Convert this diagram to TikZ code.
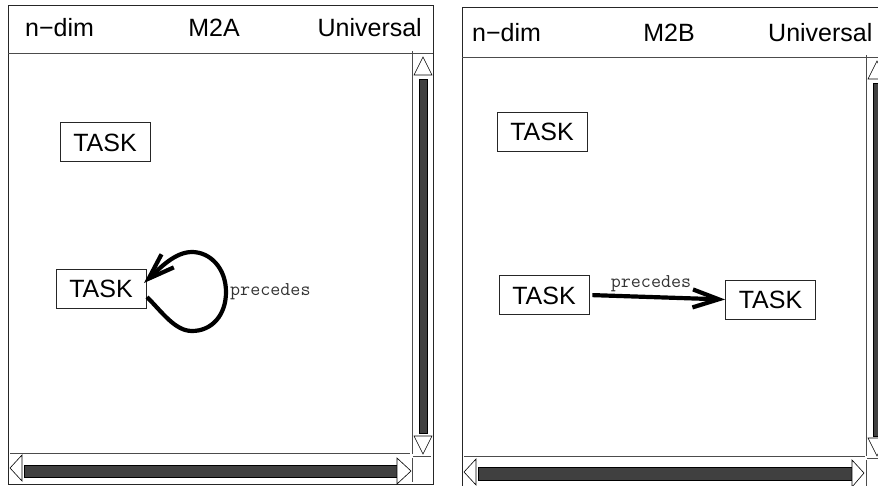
\documentclass[tikz,border=0pt]{standalone}
\usepackage{fontspec}
\setmainfont{Liberation Sans}
\usetikzlibrary{arrows.meta}
\begin{document}
\begin{tikzpicture}[x=1pt,y=-1pt,
  frame/.style={draw=black!85, line width=0.9pt},
  sepline/.style={draw=black!70, line width=0.7pt},
  tri/.style={draw=black, fill=white, line width=0.6pt},
  sbar/.style={draw=black, fill=black!75, line width=0.6pt},
  task/.style={draw=black!85, line width=0.8pt, minimum width=90pt, minimum height=39pt,
    inner sep=0pt, font=\fontsize{25}{30}\selectfont, text height=18pt, text depth=0pt},
  hdr/.style={font=\fontsize{25}{30}\selectfont, inner sep=0pt},
  lbl/.style={font=\ttfamily\fontsize{19.5}{22}\selectfont, text=black!80, inner sep=0pt},
  rel/.style={line width=4.2pt, -{Straight Barb[length=26pt,width=18pt]}}]
\useasboundingbox (0,0) rectangle (878,485);
\clip (0,0) rectangle (878,485);

% ---------- left panel ----------
\draw[frame] (8,5) rectangle (433,484);
\draw[sepline] (8,53) -- (433,53);
\draw[sepline] (412,51) -- (412,454);
\draw[sepline] (412,458) -- (412,482);
\draw[sepline] (10,453) -- (410,453);
\draw[sepline] (413,456) -- (431,456);
\draw[tri] (414,75) -- (432,75) -- (423,57) -- cycle;
\draw[sbar] (419,79) rectangle (427,433);
\draw[tri] (414,436) -- (432,436) -- (423,454) -- cycle;
\draw[tri] (22,455) -- (22,481) -- (10,468) -- cycle;
\draw[sbar] (24,465) rectangle (397,477);
\draw[tri] (397,458) -- (397,484) -- (411,471) -- cycle;

\node[hdr, anchor=base west] (lh1) at (25,36) {n−dim};
\node[hdr, anchor=base] (lh2) at (214,36) {M2A};
\node[hdr, anchor=base east] (lh3) at (422,36) {Universal};

\node[task] (L1) at (105,142) {TASK};
\node[task] (L2) at (101,288.5) {TASK};
\coordinate (ls) at (147,297);
\coordinate (le) at (144,283);
\draw[rel] (ls) .. controls (162,312) and (175,331) .. (192,331)
  .. controls (212,331) and (226,315) .. (226,292)
  .. controls (226,268) and (210,252) .. (192,252)
  .. controls (175,252) and (160,268) .. (le);
\node[lbl, anchor=base west] (llab) at (230,295) {precedes};

% ---------- right panel ----------
\draw[frame] (462,7) rectangle (900,490);
\draw[sepline] (462,57) -- (900,57);
\draw[sepline] (866,55) -- (866,456);
\draw[sepline] (866,460) -- (866,490);
\draw[sepline] (464,456) -- (865,456);
\draw[sepline] (867,458) -- (886,458);
\draw[tri] (868,79) -- (886,79) -- (877,61) -- cycle;
\draw[sbar] (873,83) rectangle (881,436);
\draw[tri] (868,438) -- (886,438) -- (877,456) -- cycle;
\draw[tri] (476,459) -- (476,485) -- (464,472) -- cycle;
\draw[sbar] (478,467) rectangle (852,480);
\draw[tri] (852,460) -- (852,487) -- (864,473) -- cycle;

\node[hdr, anchor=base west] (rh1) at (472,41) {n−dim};
\node[hdr, anchor=base] (rh2) at (669,41) {M2B};
\node[hdr, anchor=base west] (rh3) at (768,41) {Universal};

\node[task] (R1) at (542,131.5) {TASK};
\node[task] (R2) at (544,295) {TASK};
\node[task] (R3) at (770.5,299.5) {TASK};
\draw[rel, shorten <=3pt] (R2.east) -- (R3.west);
\node[lbl, anchor=base] (rlab) at (651,287) {precedes};
\end{tikzpicture}
\end{document}
